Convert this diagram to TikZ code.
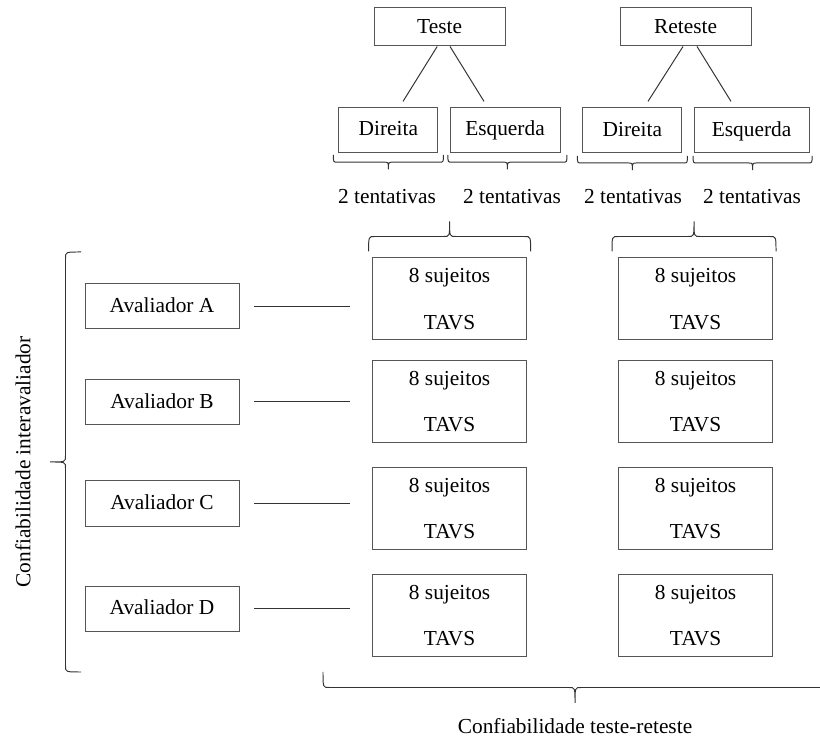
\documentclass[tikz,border=0pt]{standalone}
\usepackage{fontspec}
\setmainfont{Liberation Serif}
\usepackage{tikz}
\usetikzlibrary{positioning,calc}
\definecolor{boxgray}{HTML}{555555}
\definecolor{linegray}{HTML}{333333}
\tikzset{
  bx/.style={draw=boxgray, line width=.7pt, fill=white, align=center, inner sep=0pt, font=\fontsize{15.2}{18}\selectfont},
  bxt/.style={bx, minimum width=3.275cm, minimum height=0.95cm, text height=11.5pt, text depth=2.5pt},
  bxs/.style={bx, minimum height=1.125cm, text height=11.5pt, text depth=2.5pt},
  bxa/.style={bx, minimum width=3.85cm, minimum height=1.125cm, text height=11.5pt, text depth=2.5pt},
  bxv/.style={bx, minimum width=3.85cm, minimum height=2.05cm},
  ln/.style={line width=.7pt, draw=linegray},
  txt/.style={font=\fontsize{15.2}{18}\selectfont},
  % brace: length, amplitude, curl
  pics/brc/.style n args={3}{code={
    \draw[ln] (-#1/2,0) .. controls (-#1/2,#2/2) .. (-#1/2+#3,#2/2) -- (-#3,#2/2)
      .. controls (0,#2/2) .. (0,#2) .. controls (0,#2/2) .. (#3,#2/2) -- (#1/2-#3,#2/2)
      .. controls (#1/2,#2/2) .. (#1/2,0);
  }},
}

\begin{document}
\begin{tikzpicture}
    \useasboundingbox (0,0) rectangle (20.5,18.4);
    \clip (0,0) rectangle (20.5,18.4);

    % Teste / Reteste
    \node[bxt] (tst) at (10.99,17.725) {Teste};
    \node[bxt] (rtst) at (17.14,17.725) {Reteste};
    \node[bxs, minimum width=2.475cm] (dir1) at (9.71,15.16) {Direita};
    \node[bxs, minimum width=2.75cm] (esq1) at (12.625,15.16) {Esquerda};
    \node[bxs, minimum width=2.475cm] (dir2) at (15.81,15.14) {Direita};
    \node[bxs, minimum width=2.875cm] (esq2) at (18.79,15.14) {Esquerda};

    \draw[ln] ([xshift=-0.6mm]tst.south) -- ([xshift=3.65mm,yshift=1.3mm]dir1.north);
    \draw[ln] ([xshift=2.6mm]tst.south) -- ([xshift=-5.25mm,yshift=1.3mm]esq1.north);
    \draw[ln] ([xshift=-0.65mm]rtst.south) -- ([xshift=3.9mm,yshift=1.5mm]dir2.north);
    \draw[ln] ([xshift=2.85mm]rtst.south) -- ([xshift=-5.15mm,yshift=1.5mm]esq2.north);

    \pic[rotate=180] (bd1) at ([yshift=-0.6mm]dir1.south) {brc={2.75}{0.36}{0.1}};
    \pic[rotate=180] (be1) at ([xshift=0.6mm,yshift=-0.6mm]esq1.south) {brc={2.975}{0.36}{0.1}};
    \pic[rotate=180] (bd2) at ([yshift=-0.6mm]dir2.south) {brc={2.75}{0.36}{0.1}};
    \pic[rotate=180] (be2) at ([xshift=0.25mm,yshift=-0.6mm]esq2.south) {brc={2.975}{0.36}{0.1}};

    \node[txt] (nt1) at (9.675,13.475) {2 tentativas};
    \node[txt] (nt2) at (12.8,13.475) {2 tentativas};
    \node[txt] (nt3) at (15.825,13.475) {2 tentativas};
    \node[txt] (nt4) at (18.8,13.475) {2 tentativas};

    % 8 sujeitos
    \node[bxv] (tA1) at (11.24,10.925) {8 sujeitos\\[15pt]TAVS};
    \node[bxv] (tB1) at (11.24,8.3625) {8 sujeitos\\[15pt]TAVS};
    \node[bxv] (tC1) at (11.24,5.6875) {8 sujeitos\\[15pt]TAVS};
    \node[bxv] (tD1) at (11.24,3.0125) {8 sujeitos\\[15pt]TAVS};
    \node[bxv] (tA2) at (17.39,10.925) {8 sujeitos\\[15pt]TAVS};
    \node[bxv] (tB2) at (17.39,8.3625) {8 sujeitos\\[15pt]TAVS};
    \node[bxv] (tC2) at (17.39,5.6875) {8 sujeitos\\[15pt]TAVS};
    \node[bxv] (tD2) at (17.39,3.0125) {8 sujeitos\\[15pt]TAVS};

    \pic (bt1) at ([yshift=1.5mm]tA1.north) {brc={4.05}{0.75}{0.15}};
    \pic (bt2) at ([xshift=-0.4mm,yshift=1.5mm]tA2.north) {brc={4.1}{0.75}{0.15}};

    % avaliadores
    \node[bxa] (avA) at (4.05,10.7375) {Avaliador A};
    \node[bxa] (avB) at (4.05,8.35) {Avaliador B};
    \node[bxa] (avC) at (4.05,5.8125) {Avaliador C};
    \node[bxa] (avD) at (4.05,3.1875) {Avaliador D};

    \draw[ln, shorten <=3.75mm, shorten >=5.5mm] (avA.east) -- (avA.east -| tA1.west);
    \draw[ln, shorten <=3.75mm, shorten >=5.5mm] (avB.east) -- (avB.east -| tB1.west);
    \draw[ln, shorten <=3.75mm, shorten >=5.5mm] (avC.east) -- (avC.east -| tC1.west);
    \draw[ln, shorten <=3.75mm, shorten >=5.5mm] (avD.east) -- (avD.east -| tD1.west);

    \pic[rotate=90] (bia) at (2.025,6.85) {brc={10.5}{0.775}{0.15}};
    \node[txt, rotate=90] (lblia) at (0.575,6.85) {Confiabilidade interavaliador};

    \pic[rotate=180] (btr) at (14.375,1.6) {brc={12.6}{0.775}{0.15}};
    \node[txt] (lbltr) at (14.375,0.25) {Confiabilidade teste-reteste};
  \end{tikzpicture}
\end{document}
